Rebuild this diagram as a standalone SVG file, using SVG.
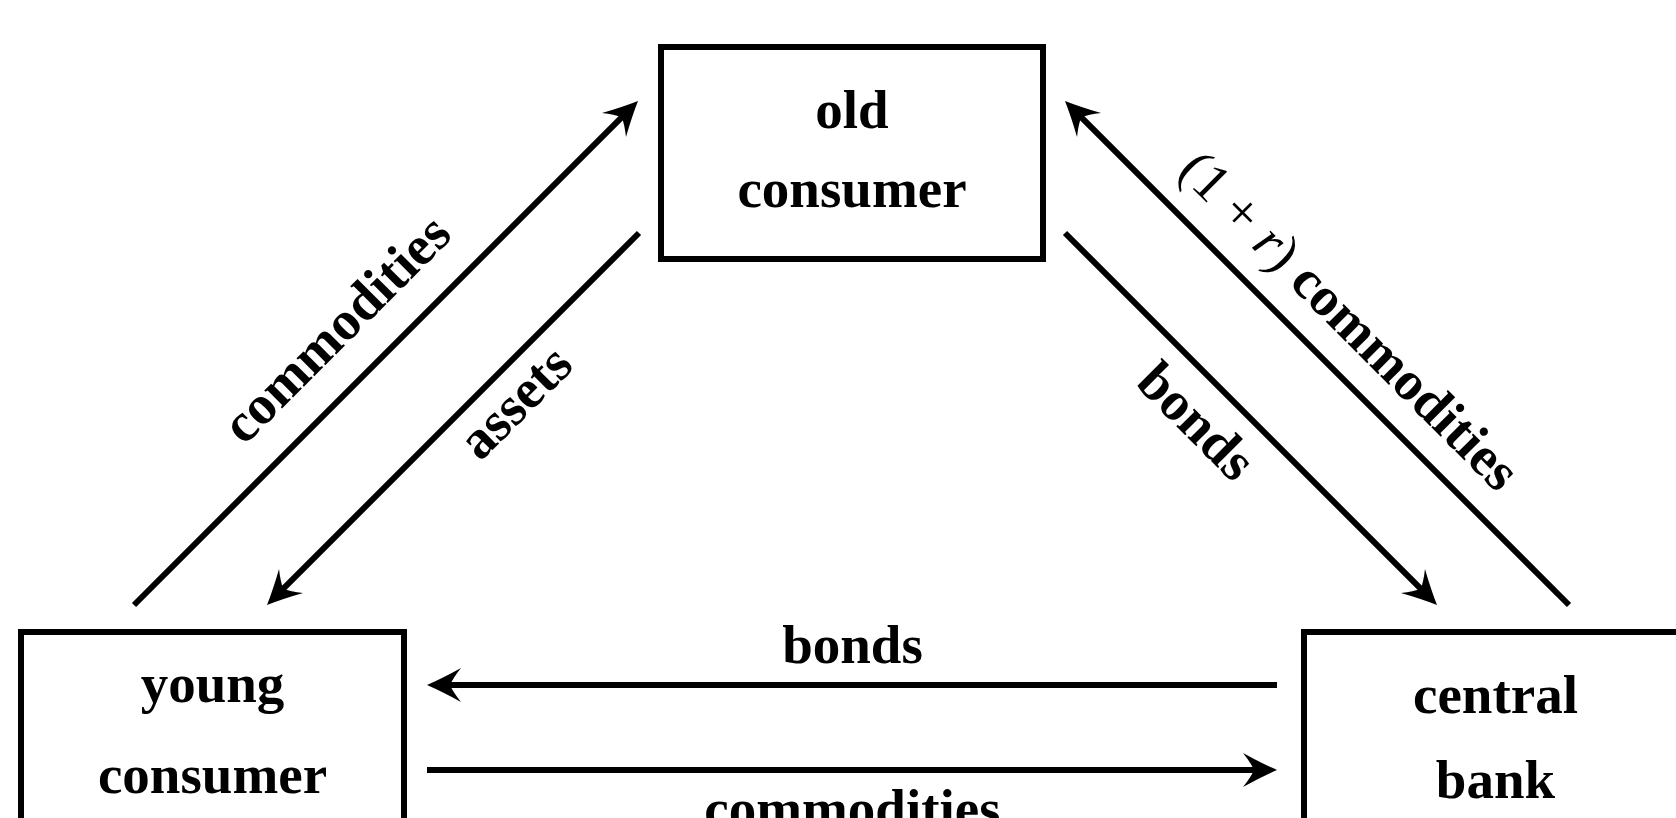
<svg xmlns="http://www.w3.org/2000/svg" width="1676" height="818" viewBox="0 0 1676 818">
<style>
.box{fill:#fff;stroke:#000;stroke-width:6}
.t{font-family:"Liberation Serif","Times New Roman",serif;font-weight:bold;font-size:55px;fill:#000;text-anchor:middle}
.m{font-weight:normal}
.c{fill:none;stroke:#000;stroke-width:6;marker-end:url(#ah)}
</style>
<defs>
<marker id="ah" markerUnits="userSpaceOnUse" markerWidth="60" markerHeight="60" viewBox="-30 -30 60 60" refX="0" refY="0" orient="auto" overflow="visible">
<path d="M15,0 Q-1,-7 -19,-17 Q-11,-7 -8,0 Q-11,7 -19,17 Q-1,7 15,0 Z" fill="#000"/>
</marker>
</defs>
<rect width="1676" height="818" fill="#fff"/>
<g id="old-consumer">
<rect class="box" x="661" y="47" width="382" height="212"/>
<text class="t" x="852" y="128">old</text>
<text class="t" x="852" y="207">consumer</text>
</g>
<g id="young-consumer">
<rect class="box" x="21" y="632" width="383" height="220"/>
<text class="t" x="212.5" y="702">young</text>
<text class="t" x="212.5" y="793">consumer</text>
</g>
<g id="central-bank">
<rect class="box" x="1304" y="632" width="383" height="220"/>
<text class="t" x="1495.5" y="713">central</text>
<text class="t" x="1495.5" y="798">bank</text>
</g>
<g id="connectors">
<path class="c" d="M134,605 L627.4,111.6"/>
<path class="c" d="M639,233 L277.6,594.4"/>
<path class="c" d="M1065,233 L1426.4,594.4"/>
<path class="c" d="M1569,605 L1075.6,111.6"/>
<path class="c" d="M1277,685 L442,685"/>
<path class="c" d="M427,770 L1262,770"/>
</g>
<g id="labels">
<text class="t" x="852.5" y="663">bonds</text>
<text class="t" x="852.5" y="827">commodities</text>
<text class="t" transform="translate(349,341.5) rotate(-45)">commodities</text>
<text class="t" transform="translate(527.9,414.8) rotate(-45)">assets</text>
<text class="t" transform="translate(1183.9,433.9) rotate(45)">bonds</text>
<text class="t" transform="translate(1337,333) rotate(45)"><tspan class="m">(1 + </tspan><tspan class="m" font-style="italic">r</tspan><tspan class="m">)</tspan> commodities</text>
</g>
</svg>
